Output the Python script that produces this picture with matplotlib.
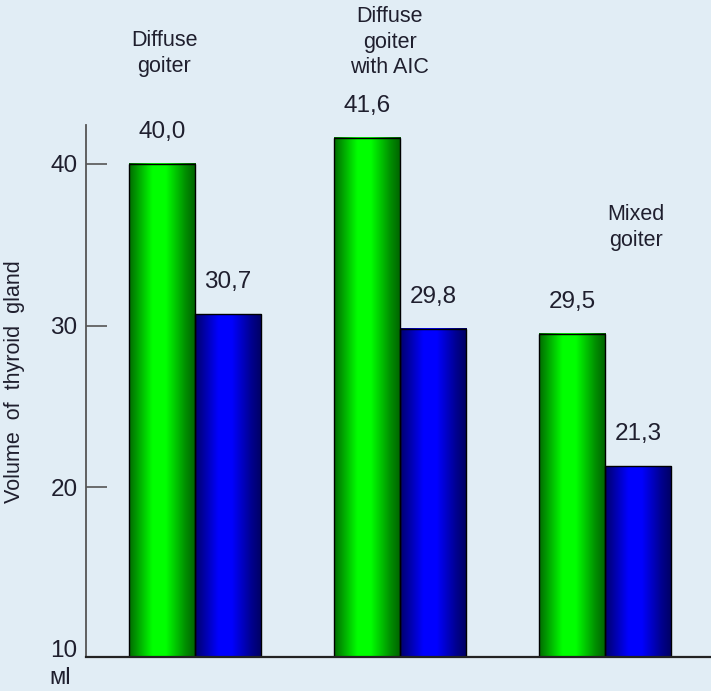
import numpy as np
import matplotlib
matplotlib.use("Agg")
import matplotlib.pyplot as plt
from matplotlib.colors import to_rgb
from matplotlib.transforms import blended_transform_factory

plt.rcParams['font.family'] = ['Liberation Sans', 'DejaVu Sans']

# data
groups = ["Diffuse\ngoiter", "Diffuse\ngoiter\nwith AIC", "Mixed\ngoiter"]
before = [40.0, 41.6, 29.5]   # green bars
after = [30.7, 29.8, 21.3]    # blue bars
yticks = [10, 20, 30, 40]
unit = "мl"
ylabel = "Volume  of  thyroid  gland"

bg = '#e1edf5'
txt = '#1f1f2e'
ymin, ymax = 9.5, 42.4

fig = plt.figure(figsize=(7.11, 6.91), dpi=100, facecolor=bg)
ax = fig.add_axes([86 / 711, 34 / 691, 625 / 711, 532 / 691])
ax.set_facecolor(bg)

x = np.arange(len(groups))
w = 0.322
b1 = ax.bar(x - w / 2, before, w, facecolor='none', edgecolor='black', linewidth=1.0, zorder=3)
b2 = ax.bar(x + w / 2, after, w, facecolor='none', edgecolor='black', linewidth=1.0, zorder=3)


def cylinder(color):
    # horizontal shading: dark edges, bright band left of centre
    t = np.linspace(0, 1, 200)
    k = np.interp(t, [0, 0.08, 0.35, 0.55, 0.85, 1.0], [0.42, 0.55, 1.0, 1.0, 0.55, 0.38])
    rgb = np.array(to_rgb(color))
    return (k[:, None] * rgb[None, :])[None, :, :]


for bars, col in ((b1, '#00ff00'), (b2, '#0000ff')):
    img = cylinder(col)
    for p in bars:
        x0 = p.get_x()
        top = p.get_y() + p.get_height()
        ax.imshow(img, extent=[x0, x0 + p.get_width(), max(p.get_y(), ymin), top],
                  aspect='auto', zorder=2, interpolation='bilinear')

ax.set_xlim(-0.532, 2.517)
ax.set_ylim(ymin, ymax)

# value labels
for bars, vals in ((b1, before), (b2, after)):
    for p, v in zip(bars, vals):
        ax.annotate(f"{v:.1f}".replace('.', ','), (p.get_x() + p.get_width() / 2, v),
                    xytext=(0, 23), textcoords='offset points', ha='center', va='center',
                    fontsize=17.5, color=txt)

# group labels above
tr = blended_transform_factory(ax.transData, fig.transFigure)
label_x = [-0.15, 0.95, 2.15]
label_y = [0.923, 0.939, 0.671]
for gx, gy, g in zip(label_x, label_y, groups):
    ax.text(gx, gy, g, transform=tr, ha='center', va='center', fontsize=15.5,
            color=txt, linespacing=1.3)

# axes styling
for s in ('top', 'right'):
    ax.spines[s].set_visible(False)
ax.spines['left'].set_color('#555555')
ax.spines['left'].set_linewidth(1.3)
ax.spines['bottom'].set_color('#222222')
ax.spines['bottom'].set_linewidth(1.6)
ax.spines['bottom'].set_zorder(4)
ax.set_xticks([])
ax.set_yticks(yticks)
ax.tick_params(axis='y', direction='in', length=15, width=1.2, color='#555555',
               labelsize=17.5, labelcolor=txt, pad=6)
ax.yaxis.get_major_ticks()[0].tick1line.set_visible(False)

fig.text(0.021, 0.447, ylabel, rotation=90, ha='center', va='center', fontsize=15.5, color=txt)
fig.text(0.084, 0.019, unit, ha='center', va='center', fontsize=17, color=txt)

fig.savefig("out.png", dpi=100, facecolor=bg)
